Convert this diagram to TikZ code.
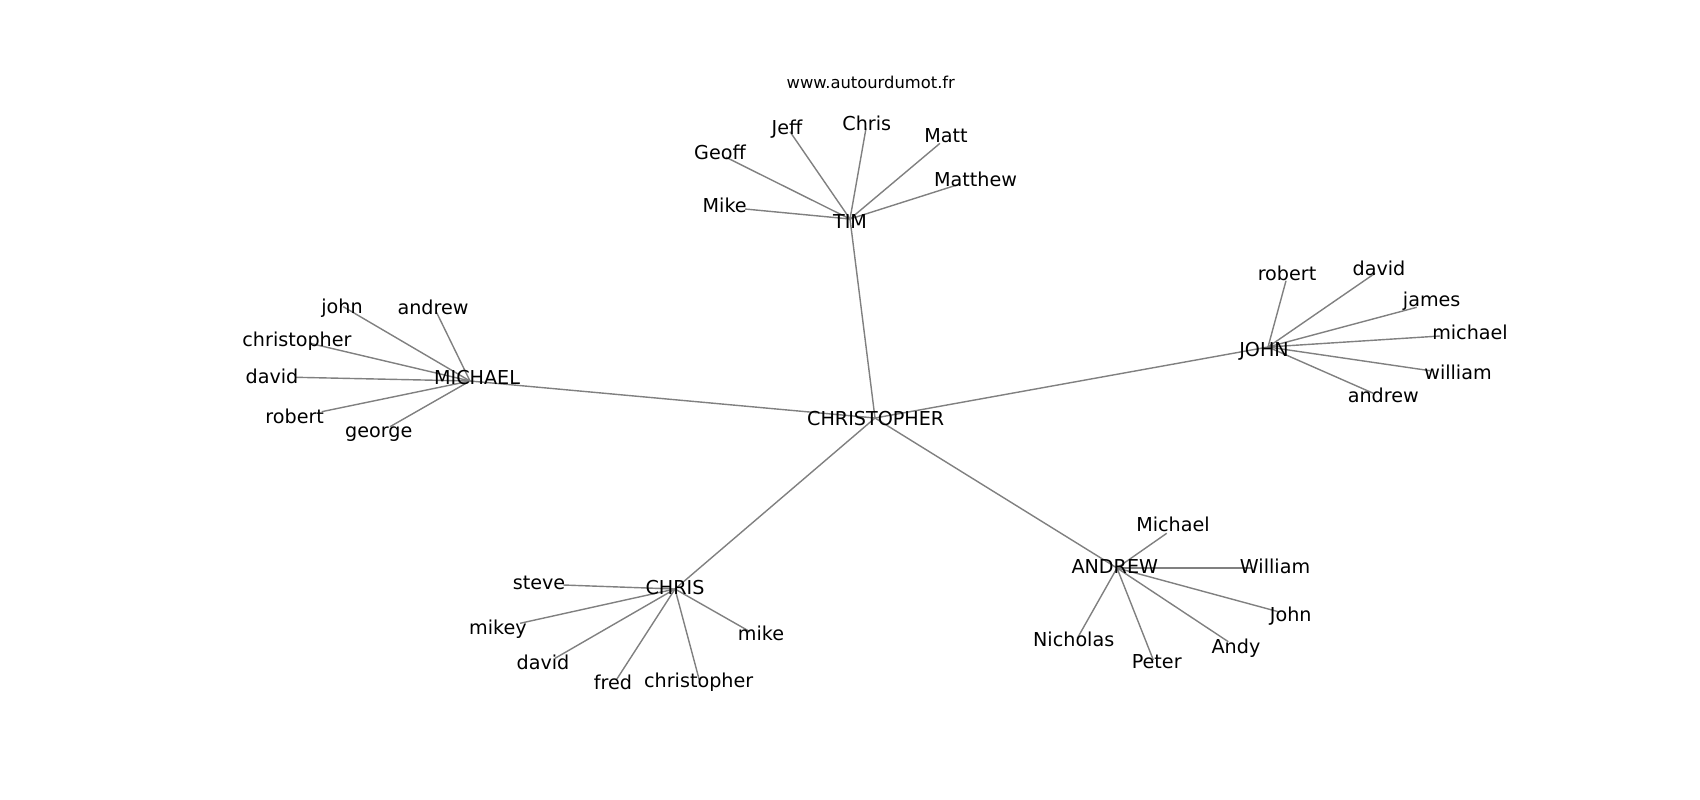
\documentclass[tikz,border=0pt]{standalone}
\usepackage{fontspec}
\setmainfont{DejaVu Sans}
\usetikzlibrary{calc}
\tikzstyle{edge}=[draw=black!50, line width=0.4pt]
\tikzstyle{word}=[font=\fontsize{5.45}{6.5}\selectfont, inner sep=0pt, anchor=base]
\tikzstyle{site}=[font=\fontsize{4.65}{5.5}\selectfont, inner sep=0pt, anchor=base]

\begin{document}
\begin{tikzpicture}[x=0.01cm, y=-0.01cm]
\useasboundingbox (0,0) rectangle (1700,800);
\node[site] (www) at (870.8,88.3) {www.autourdumot.fr};
% hubs
\coordinate (christopher) at (875,418);
\coordinate (tim) at (850,219);
\coordinate (michael) at (470,381);
\coordinate (john) at (1268,347);
\coordinate (chris) at (675,589);
\coordinate (andrew) at (1117,568);
\foreach \h in {tim,michael,john,chris,andrew}
  \draw[edge] (christopher) -- (\h);
% leaves
\foreach \n/\ex/\ey/\lx/\ly/\t in {mike/745/209/724.7/212.7/Mike, geoff/726/157.3/720/159.3/Geoff,
    jeff/790/131.7/787/134/Jeff, chris/866/128.3/866.8/130.7/Chris,
    matt/940/143.3/946/142.7/Matt, matthew/960/184/975.5/186/Matthew}{
  \coordinate (tim-\n) at (\ex,\ey);
  \draw[edge] (tim) -- (tim-\n);
  \node[word] (tim-\n-txt) at (\lx,\ly) {\t};
}
\foreach \n/\ex/\ey/\lx/\ly/\t in {john/343.3/306.7/342/313.3/john, andrew/436.7/312.7/433/314/andrew,
    christopher/310/343.3/297/346/christopher, david/296/377.3/272/383/david,
    robert/321.7/411.7/294.7/423.3/robert, george/390/426.7/378.8/437.7/george}{
  \coordinate (michael-\n) at (\ex,\ey);
  \draw[edge] (michael) -- (michael-\n);
  \node[word] (michael-\n-txt) at (\lx,\ly) {\t};
}
\foreach \n/\ex/\ey/\lx/\ly/\t in {robert/1286/280.7/1287/280.7/robert, david/1375/273.3/1379/275/david,
    james/1416.7/307.3/1431.7/306/james, michael/1440/336/1470/339.3/michael,
    william/1430/370.7/1458/379.3/william, andrew/1373.3/393.3/1383.3/402.7/andrew}{
  \coordinate (john-\n) at (\ex,\ey);
  \draw[edge] (john) -- (john-\n);
  \node[word] (john-\n-txt) at (\lx,\ly) {\t};
}
\foreach \n/\ex/\ey/\lx/\ly/\t in {steve/563.3/585/539/589/steve, mikey/520/623.3/498/634/mikey,
    david/555/658.3/543/669.3/david, fred/616.7/679.3/613/689.3/fred,
    christopher/699.3/680/698.7/687.3/christopher, mike/750/631.7/761/640.7/mike}{
  \coordinate (chris-\n) at (\ex,\ey);
  \draw[edge] (chris) -- (chris-\n);
  \node[word] (chris-\n-txt) at (\lx,\ly) {\t};
}
\foreach \n/\ex/\ey/\lx/\ly/\t in {michael/1166.7/533.3/1173/531.7/Michael, william/1252/568/1275/573.3/William,
    john/1278.3/611.7/1290.7/621.7/John, andy/1228.3/641.7/1236/653.3/Andy,
    peter/1153.3/660/1156.7/668.3/Peter, nicholas/1077.3/638.3/1073.7/646.7/Nicholas}{
  \coordinate (andrew-\n) at (\ex,\ey);
  \draw[edge] (andrew) -- (andrew-\n);
  \node[word] (andrew-\n-txt) at (\lx,\ly) {\t};
}
% hub names
\node[word] (christopher-txt) at (875.7,425) {CHRISTOPHER};
\node[word] (tim-txt) at (850,228) {TIM};
\node[word] (michael-txt) at (477,384) {MICHAEL};
\node[word] (john-txt) at (1264,356) {JOHN};
\node[word] (chris-txt) at (675,594) {CHRIS};
\node[word] (andrew-txt) at (1114.8,573.3) {ANDREW};
\end{tikzpicture}
\end{document}
